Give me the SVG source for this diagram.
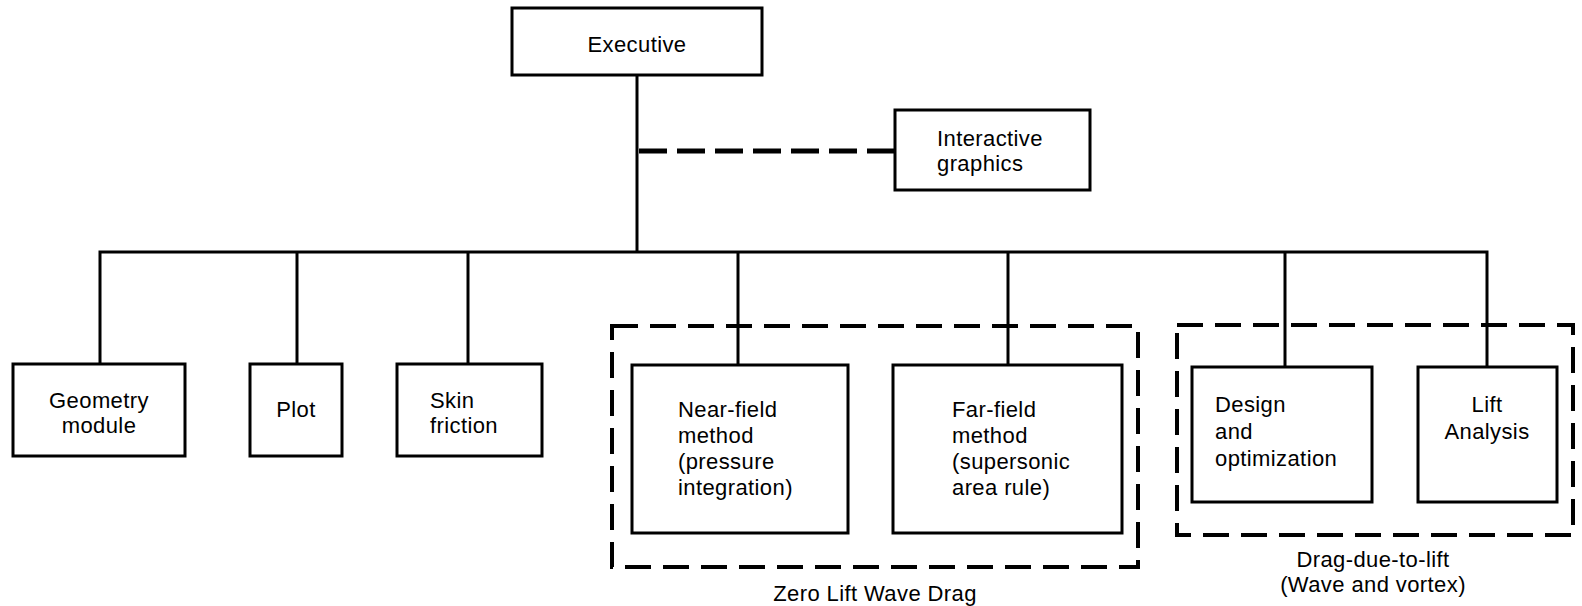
<svg xmlns="http://www.w3.org/2000/svg" width="1582" height="606" viewBox="0 0 1582 606">
<style>
  .box { fill: #fff; stroke: #000; stroke-width: 3; }
  .grp { fill: none; stroke: #000; stroke-width: 4; stroke-dasharray: 26 12; }
  .ln { fill: none; stroke: #000; stroke-width: 3; }
  .dl { fill: none; stroke: #000; stroke-width: 5; stroke-dasharray: 28 10; }
  text { font-family: "Liberation Sans", Arial, sans-serif; font-size: 22px; fill: #000; letter-spacing: 0.4px; }
  .c { text-anchor: middle; }
</style>
<rect width="1582" height="606" fill="#fff"/>
<g id="groups">
  <rect class="grp" x="612" y="326" width="526" height="241"/>
  <rect class="grp" x="1177" y="325" width="396" height="210"/>
  <text class="c" x="875" y="601">Zero Lift Wave Drag</text>
  <text class="c" x="1373" y="567">Drag-due-to-lift</text>
  <text class="c" x="1373" y="592">(Wave and vortex)</text>
</g>
<g id="connectors">
  <line class="ln" x1="637" y1="75" x2="637" y2="252"/>
  <line class="dl" x1="639" y1="151" x2="895" y2="151"/>
  <polyline class="ln" points="100,364 100,252 1487,252 1487,367"/>
  <line class="ln" x1="297" y1="252" x2="297" y2="364"/>
  <line class="ln" x1="468" y1="252" x2="468" y2="364"/>
  <line class="ln" x1="738" y1="252" x2="738" y2="365"/>
  <line class="ln" x1="1008" y1="252" x2="1008" y2="365"/>
  <line class="ln" x1="1285" y1="252" x2="1285" y2="367"/>
</g>
<g id="executive">
  <rect class="box" x="512" y="8" width="250" height="67"/>
  <text class="c" x="637" y="52">Executive</text>
</g>
<g id="interactive-graphics">
  <rect class="box" x="895" y="110" width="195" height="80"/>
  <text x="937" y="146">Interactive</text>
  <text x="937" y="171">graphics</text>
</g>
<g id="geometry-module">
  <rect class="box" x="13" y="364" width="172" height="92"/>
  <text class="c" x="99" y="408">Geometry</text>
  <text class="c" x="99" y="433">module</text>
</g>
<g id="plot">
  <rect class="box" x="250" y="364" width="92" height="92"/>
  <text class="c" x="296" y="417">Plot</text>
</g>
<g id="skin-friction">
  <rect class="box" x="397" y="364" width="145" height="92"/>
  <text x="430" y="408">Skin</text>
  <text x="430" y="433">friction</text>
</g>
<g id="near-field">
  <rect class="box" x="632" y="365" width="216" height="168"/>
  <text x="678" y="417">Near-field</text>
  <text x="678" y="443">method</text>
  <text x="678" y="469">(pressure</text>
  <text x="678" y="495">integration)</text>
</g>
<g id="far-field">
  <rect class="box" x="893" y="365" width="229" height="168"/>
  <text x="952" y="417">Far-field</text>
  <text x="952" y="443">method</text>
  <text x="952" y="469">(supersonic</text>
  <text x="952" y="495">area rule)</text>
</g>
<g id="design-optimization">
  <rect class="box" x="1192" y="367" width="180" height="135"/>
  <text x="1215" y="412">Design</text>
  <text x="1215" y="439">and</text>
  <text x="1215" y="466">optimization</text>
</g>
<g id="lift-analysis">
  <rect class="box" x="1418" y="367" width="139" height="135"/>
  <text class="c" x="1487" y="412">Lift</text>
  <text class="c" x="1487" y="439">Analysis</text>
</g>
</svg>
